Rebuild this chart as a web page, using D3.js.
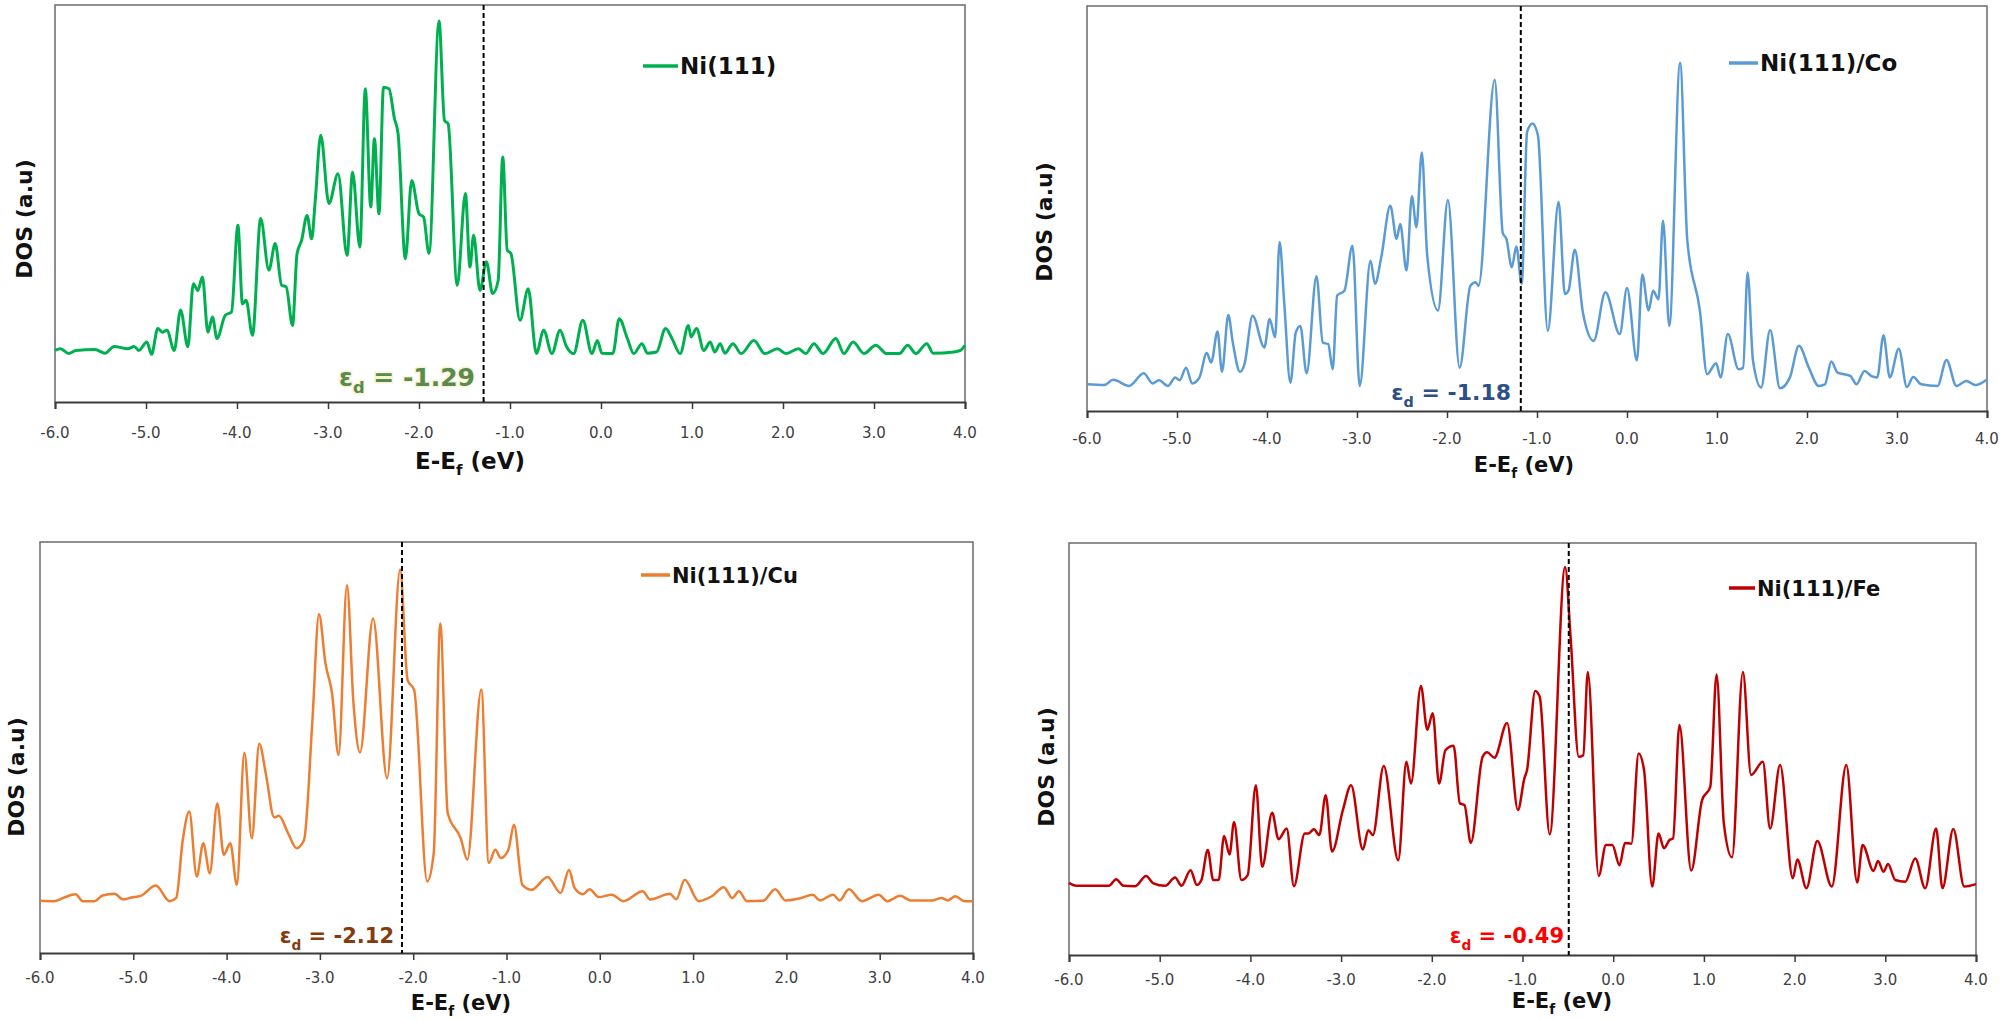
<!DOCTYPE html>
<html>
<head>
<meta charset="utf-8">
<script src="https://cdn.jsdelivr.net/npm/d3@7"></script>
<style>
  body { margin: 0; background: #fff; }
  text { font-family: "DejaVu Sans", "Liberation Sans", sans-serif; }
</style>
</head>
<body>
<div id="chart"></div>
<script>
// DOS curves, [E - Ef (eV), DOS (a.u., % of plot height)]
const ni111 = [
  [-6.00, 13.0], [-5.94, 13.4], [-5.85, 12.2], [-5.77, 13.0], [-5.56, 13.2], [-5.45, 12.3],
  [-5.35, 14.0], [-5.20, 13.4], [-5.13, 14.0], [-5.08, 13.0], [-4.99, 15.1], [-4.94, 12.0],
  [-4.87, 18.5], [-4.82, 17.6], [-4.77, 18.1], [-4.69, 13.0], [-4.62, 23.2], [-4.54, 13.9],
  [-4.48, 29.8], [-4.43, 28.1], [-4.38, 31.5], [-4.32, 17.6], [-4.27, 21.4], [-4.22, 16.0],
  [-4.13, 21.8], [-4.06, 22.7], [-3.99, 44.5], [-3.94, 24.7], [-3.90, 25.6], [-3.83, 16.8],
  [-3.74, 46.2], [-3.65, 33.2], [-3.58, 39.9], [-3.51, 29.4], [-3.46, 29.0], [-3.39, 19.3],
  [-3.34, 37.4], [-3.29, 40.7], [-3.23, 47.0], [-3.18, 41.1], [-3.14, 50.8], [-3.08, 67.2],
  [-2.99, 50.0], [-2.89, 57.5], [-2.79, 36.9], [-2.73, 57.9], [-2.65, 39.0], [-2.59, 78.9],
  [-2.53, 49.1], [-2.49, 66.3], [-2.44, 47.4], [-2.39, 79.3], [-2.33, 78.9], [-2.27, 71.4],
  [-2.23, 67.6], [-2.15, 36.1], [-2.08, 55.8], [-2.00, 47.4], [-1.95, 46.6], [-1.89, 37.4],
  [-1.78, 96.0], [-1.72, 70.9], [-1.68, 70.1], [-1.58, 29.4], [-1.49, 52.5], [-1.44, 34.0],
  [-1.40, 42.0], [-1.33, 28.1], [-1.26, 35.3], [-1.19, 27.3], [-1.13, 30.6], [-1.08, 61.7],
  [-1.03, 38.2], [-0.99, 37.4], [-0.89, 20.6], [-0.80, 28.5], [-0.71, 12.2], [-0.63, 18.1],
  [-0.54, 12.2], [-0.45, 18.1], [-0.38, 14.0], [-0.30, 12.2], [-0.20, 20.6], [-0.10, 12.2],
  [-0.04, 15.5], [0.01, 12.3], [0.13, 12.2], [0.20, 21.0], [0.29, 16.0], [0.36, 12.2],
  [0.45, 14.7], [0.51, 12.3], [0.61, 12.6], [0.71, 18.5], [0.78, 16.0], [0.87, 12.2],
  [0.96, 19.3], [0.99, 16.4], [1.05, 18.5], [1.13, 13.0], [1.20, 15.1], [1.25, 12.6],
  [1.31, 14.7], [1.36, 12.3], [1.45, 14.7], [1.54, 12.2], [1.68, 15.5], [1.80, 12.2],
  [1.94, 13.4], [2.03, 12.2], [2.17, 13.4], [2.25, 12.2], [2.34, 14.7], [2.44, 12.2],
  [2.58, 16.0], [2.67, 12.2], [2.77, 15.1], [2.89, 12.2], [3.02, 14.3], [3.14, 12.2],
  [3.28, 12.2], [3.37, 14.3], [3.46, 12.2], [3.58, 14.7], [3.65, 12.3], [3.88, 12.6],
  [3.95, 13.0], [4.00, 14.3]
];

const ni111Co = [
  [-6.00, 6.6], [-5.81, 6.4], [-5.71, 7.7], [-5.53, 6.2], [-5.37, 9.3], [-5.27, 6.8],
  [-5.20, 7.6], [-5.10, 6.2], [-5.02, 8.3], [-4.97, 7.6], [-4.90, 10.7], [-4.83, 6.8],
  [-4.75, 8.3], [-4.67, 14.3], [-4.62, 12.0], [-4.55, 19.6], [-4.50, 9.7], [-4.43, 23.7],
  [-4.38, 16.9], [-4.30, 9.7], [-4.25, 11.6], [-4.16, 23.5], [-4.03, 15.7], [-3.97, 22.7],
  [-3.91, 18.2], [-3.86, 41.7], [-3.81, 27.2], [-3.74, 7.0], [-3.68, 19.4], [-3.63, 21.0],
  [-3.56, 9.3], [-3.45, 33.3], [-3.38, 16.9], [-3.32, 16.5], [-3.27, 10.3], [-3.22, 28.5],
  [-3.14, 29.7], [-3.05, 40.8], [-2.97, 6.2], [-2.85, 37.1], [-2.80, 31.4], [-2.73, 38.0],
  [-2.63, 50.7], [-2.56, 42.5], [-2.52, 46.2], [-2.45, 34.7], [-2.39, 53.0], [-2.34, 45.4],
  [-2.28, 63.8], [-2.22, 38.4], [-2.10, 24.8], [-1.99, 52.1], [-1.86, 10.7], [-1.74, 30.9],
  [-1.68, 31.8], [-1.65, 30.9], [-1.47, 81.8], [-1.38, 43.9], [-1.34, 42.5], [-1.28, 35.5],
  [-1.23, 40.6], [-1.17, 31.4], [-1.11, 68.9], [-1.05, 71.0], [-0.99, 68.1], [-0.88, 19.8],
  [-0.76, 51.6], [-0.69, 28.9], [-0.65, 29.7], [-0.58, 39.8], [-0.49, 24.3], [-0.37, 17.3],
  [-0.24, 29.3], [-0.08, 19.0], [0.00, 30.4], [0.11, 12.5], [0.17, 33.7], [0.24, 24.8],
  [0.29, 29.7], [0.35, 27.6], [0.40, 47.0], [0.47, 21.0], [0.59, 86.0], [0.67, 42.1],
  [0.81, 24.8], [0.89, 9.1], [0.99, 11.8], [1.04, 8.3], [1.12, 19.0], [1.24, 10.3],
  [1.29, 10.7], [1.34, 34.2], [1.40, 12.4], [1.49, 5.8], [1.59, 20.0], [1.70, 5.6],
  [1.81, 8.3], [1.91, 16.1], [2.02, 10.7], [2.13, 6.2], [2.20, 6.6], [2.27, 12.2],
  [2.34, 9.5], [2.48, 8.7], [2.55, 6.6], [2.64, 9.9], [2.71, 8.7], [2.78, 8.3],
  [2.85, 18.7], [2.92, 8.3], [3.02, 15.4], [3.11, 5.9], [3.18, 8.4], [3.27, 6.6],
  [3.45, 6.2], [3.55, 12.6], [3.66, 6.2], [3.77, 7.4], [3.87, 6.4], [4.00, 7.8]
];

const ni111Cu = [
  [-6.00, 12.7], [-5.85, 12.6], [-5.75, 13.4], [-5.62, 14.3], [-5.54, 12.6], [-5.42, 12.6],
  [-5.33, 14.0], [-5.20, 14.4], [-5.11, 13.0], [-5.02, 13.5], [-4.92, 13.9], [-4.76, 16.4],
  [-4.61, 12.6], [-4.54, 13.4], [-4.47, 27.5], [-4.40, 34.4], [-4.32, 18.6], [-4.25, 26.7],
  [-4.18, 19.4], [-4.10, 36.4], [-4.03, 23.9], [-3.96, 26.7], [-3.89, 16.6], [-3.81, 48.7],
  [-3.73, 27.9], [-3.65, 50.9], [-3.58, 43.7], [-3.49, 33.0], [-3.44, 33.4], [-3.34, 29.1],
  [-3.25, 25.5], [-3.17, 27.5], [-3.08, 56.7], [-3.01, 82.4], [-2.94, 70.4], [-2.87, 63.2],
  [-2.80, 48.2], [-2.71, 89.5], [-2.64, 60.7], [-2.57, 48.8], [-2.43, 81.4], [-2.28, 42.5],
  [-2.14, 93.3], [-2.06, 66.4], [-1.99, 64.0], [-1.85, 17.4], [-1.78, 24.3], [-1.71, 80.2],
  [-1.63, 34.0], [-1.49, 27.9], [-1.42, 22.7], [-1.27, 64.1], [-1.19, 21.9], [-1.12, 25.1],
  [-1.06, 23.1], [-0.98, 25.1], [-0.92, 31.2], [-0.83, 16.6], [-0.73, 15.4], [-0.56, 18.5],
  [-0.42, 14.6], [-0.33, 20.2], [-0.27, 15.8], [-0.18, 14.3], [-0.11, 15.5], [-0.01, 13.6],
  [0.13, 14.2], [0.25, 12.6], [0.46, 15.0], [0.54, 13.0], [0.75, 14.4], [0.82, 13.1],
  [0.91, 17.8], [1.06, 12.6], [1.20, 13.8], [1.33, 16.0], [1.42, 13.4], [1.49, 15.0],
  [1.58, 12.6], [1.75, 12.7], [1.88, 15.5], [1.99, 12.8], [2.16, 13.4], [2.28, 14.2],
  [2.36, 12.8], [2.50, 14.2], [2.57, 12.8], [2.67, 15.5], [2.81, 12.6], [2.99, 14.2],
  [3.08, 12.6], [3.22, 13.9], [3.33, 12.8], [3.57, 12.8], [3.66, 13.4], [3.73, 12.8],
  [3.81, 13.8], [3.91, 12.6], [4.00, 12.6]
];

const ni111Fe = [
  [-6.00, 17.5], [-5.92, 16.8], [-5.56, 16.8], [-5.48, 18.4], [-5.40, 16.8], [-5.27, 16.7],
  [-5.15, 19.2], [-5.07, 17.4], [-4.94, 16.8], [-4.83, 18.8], [-4.76, 16.8], [-4.66, 20.6],
  [-4.59, 17.0], [-4.54, 18.2], [-4.47, 25.5], [-4.41, 18.2], [-4.35, 18.2], [-4.29, 28.9],
  [-4.23, 24.4], [-4.18, 32.3], [-4.10, 18.2], [-4.03, 19.4], [-3.94, 41.2], [-3.87, 21.4],
  [-3.76, 34.5], [-3.69, 28.1], [-3.60, 30.7], [-3.52, 16.7], [-3.40, 29.5], [-3.36, 29.5],
  [-3.30, 30.5], [-3.24, 29.1], [-3.17, 38.8], [-3.10, 25.1], [-2.98, 35.2], [-2.89, 41.2],
  [-2.76, 25.6], [-2.70, 30.3], [-2.65, 29.1], [-2.53, 45.9], [-2.37, 23.0], [-2.28, 46.9],
  [-2.23, 41.6], [-2.12, 65.3], [-2.05, 54.7], [-1.99, 58.7], [-1.92, 41.6], [-1.85, 49.7],
  [-1.76, 50.8], [-1.69, 36.8], [-1.64, 36.4], [-1.57, 27.2], [-1.44, 48.1], [-1.39, 49.2],
  [-1.31, 47.9], [-1.17, 56.3], [-1.05, 35.2], [-0.98, 42.8], [-0.95, 44.9], [-0.86, 64.1],
  [-0.81, 62.7], [-0.70, 29.3], [-0.53, 94.2], [-0.47, 77.2], [-0.38, 48.1], [-0.33, 48.5],
  [-0.28, 68.7], [-0.16, 19.2], [-0.08, 26.7], [-0.01, 26.7], [0.07, 21.8], [0.13, 27.2],
  [0.20, 27.0], [0.28, 48.9], [0.34, 44.9], [0.43, 16.6], [0.50, 29.5], [0.56, 25.9],
  [0.62, 27.9], [0.66, 28.3], [0.73, 55.8], [0.86, 20.5], [0.98, 37.6], [1.07, 40.8],
  [1.14, 68.1], [1.22, 31.9], [1.31, 23.7], [1.43, 68.7], [1.52, 43.7], [1.65, 46.9],
  [1.73, 30.7], [1.84, 46.1], [1.98, 18.6], [2.03, 23.2], [2.13, 16.2], [2.25, 27.7],
  [2.41, 16.6], [2.57, 46.1], [2.69, 17.6], [2.75, 26.7], [2.87, 20.4], [2.92, 22.8],
  [2.98, 20.2], [3.03, 22.1], [3.11, 18.2], [3.22, 17.8], [3.33, 23.4], [3.44, 16.2],
  [3.56, 30.7], [3.63, 16.2], [3.75, 30.6], [3.87, 16.6], [4.00, 17.2]
];

const seriesNames = ["Ni(111)", "Ni(111)/Co", "Ni(111)/Cu", "Ni(111)/Fe"];
const seriesData = [ni111, ni111Co, ni111Cu, ni111Fe];
const dBandCentres = [-1.29, -1.18, -2.12, -0.49];
const xTicks = [-6, -5, -4, -3, -2, -1, 0, 1, 2, 3, 4];

// styling / placement of each panel
const lineColors = ["#00b050", "#5b9bd5", "#ed7d31", "#c00000"];
const epsColors = ["#5a8a4c", "#2e4f86", "#843c0c", "#ff0000"];
const panels = [
  { l: 55, r: 965, t: 5, b: 402, tickY: 433, titleX: 470, titleY: 469, titleSize: 23,
    dosX: 24, dosY: 219, legX: 643, legW: 35, legY: 66, legSize: 23,
    epsX: 475, epsY: 386, epsSize: 25, sw: 3 },
  { l: 1087, r: 1987, t: 6, b: 411, tickY: 439, titleX: 1524, titleY: 472, titleSize: 21,
    dosX: 1044, dosY: 222, legX: 1729, legW: 29, legY: 63, legSize: 23,
    epsX: 1511, epsY: 400, epsSize: 22, sw: 2.5 },
  { l: 40, r: 973, t: 542, b: 953, tickY: 978, titleX: 461, titleY: 1010, titleSize: 21,
    dosX: 16, dosY: 777, legX: 641, legW: 29, legY: 575, legSize: 21,
    epsX: 394, epsY: 943, epsSize: 21, sw: 2.5 },
  { l: 1069, r: 1976, t: 543, b: 955, tickY: 980, titleX: 1562, titleY: 1008, titleSize: 21,
    dosX: 1046, dosY: 767, legX: 1729, legW: 26, legY: 588, legSize: 21,
    epsX: 1564, epsY: 943, epsSize: 21, sw: 2.5 }
];

const svg = d3.select("#chart")
  .append("svg")
  .attr("width", 2000)
  .attr("height", 1021)
  .style("display", "block");

panels.forEach((p, i) => {
  const data = seriesData[i];
  const g = svg.append("g");

  const x = d3.scaleLinear().domain([-6, 4]).range([p.l, p.r]);
  const y = d3.scaleLinear().domain([0, 100]).range([p.b, p.t]);

  // frame (left, top, right)
  g.append("path")
    .attr("d", `M${p.l},${p.b} V${p.t} H${p.r} V${p.b}`)
    .attr("fill", "none")
    .attr("stroke", "#6b6b6b")
    .attr("stroke-width", 1.5);

  // x axis
  const axis = g.append("g")
    .attr("transform", `translate(0,${p.b})`)
    .call(d3.axisBottom(x).tickValues(xTicks).tickSize(7).tickFormat(""));
  axis.select(".domain").attr("stroke", "#3a3a3a").attr("stroke-width", 2);
  axis.selectAll(".tick line").attr("stroke", "#3a3a3a").attr("stroke-width", 1.5);

  g.selectAll(".xlab")
    .data(xTicks)
    .enter()
    .append("text")
    .attr("x", d => x(d))
    .attr("y", p.tickY + 5)
    .attr("text-anchor", "middle")
    .style("font-size", "15px")
    .style("fill", "#404040")
    .text(d => d.toFixed(1));

  // axis titles
  const title = g.append("text")
    .attr("x", p.titleX)
    .attr("y", p.titleY)
    .attr("text-anchor", "middle")
    .style("font-size", p.titleSize + "px")
    .style("font-weight", "bold")
    .style("fill", "#111");
  title.append("tspan").text("E-E");
  title.append("tspan").attr("dy", 6).style("font-size", (p.titleSize * 0.65) + "px").text("f");
  title.append("tspan").attr("dy", -6).text(" (eV)");

  g.append("text")
    .attr("transform", `translate(${p.dosX},${p.dosY}) rotate(-90)`)
    .attr("text-anchor", "middle")
    .attr("dy", "0.35em")
    .style("font-size", "22px")
    .style("font-weight", "bold")
    .style("fill", "#111")
    .text("DOS (a.u)");

  // DOS curve
  const line = d3.line()
    .x(d => x(d[0]))
    .y(d => y(d[1]))
    .curve(d3.curveMonotoneX);

  g.append("path")
    .datum(data)
    .attr("fill", "none")
    .attr("stroke", lineColors[i])
    .attr("stroke-width", p.sw)
    .attr("stroke-linejoin", "round")
    .attr("d", line);

  // d-band centre
  const ed = dBandCentres[i];
  g.append("line")
    .attr("x1", x(ed)).attr("x2", x(ed))
    .attr("y1", p.t).attr("y2", p.b)
    .attr("stroke", "#000")
    .attr("stroke-width", 2)
    .attr("stroke-dasharray", "5 3");

  const eps = g.append("text")
    .attr("x", p.epsX)
    .attr("y", p.epsY)
    .attr("text-anchor", "end")
    .style("font-size", p.epsSize + "px")
    .style("font-weight", "bold")
    .style("fill", epsColors[i]);
  if (i === 0) {
    eps.style("stroke", "#f7f4d6").style("stroke-width", 3).style("paint-order", "stroke");
  }
  eps.append("tspan").text("ε");
  eps.append("tspan").attr("dy", 7).style("font-size", (p.epsSize * 0.65) + "px").text("d");
  eps.append("tspan").attr("dy", -7).text(" = " + ed.toFixed(2));

  // legend
  g.append("line")
    .attr("x1", p.legX).attr("x2", p.legX + p.legW)
    .attr("y1", p.legY).attr("y2", p.legY)
    .attr("stroke", lineColors[i])
    .attr("stroke-width", 3.5);

  g.append("text")
    .attr("x", p.legX + p.legW + 2)
    .attr("y", p.legY)
    .attr("dy", "0.36em")
    .style("font-size", p.legSize + "px")
    .style("font-weight", "bold")
    .style("fill", "#111")
    .text(seriesNames[i]);
});
</script>
</body>
</html>
